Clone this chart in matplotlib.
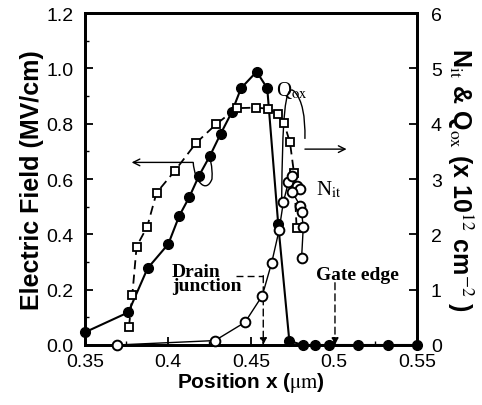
import numpy as np
import matplotlib
matplotlib.use("Agg")
import matplotlib.pyplot as plt
from matplotlib.path import Path
from matplotlib.patches import PathPatch

plt.rcParams['font.family'] = 'Liberation Sans'
plt.rcParams['mathtext.fontset'] = 'stix'

# Electric field (left axis), filled circles
ef_x = [0.35, 0.3761, 0.3877, 0.4002, 0.4068, 0.4128, 0.4187, 0.4253, 0.4317, 0.4384,
        0.444, 0.4534, 0.4598, 0.4664, 0.4731, 0.4811, 0.4886, 0.4972, 0.5147, 0.5328, 0.5499]
ef_y = [0.046, 0.118, 0.277, 0.365, 0.467, 0.534, 0.612, 0.684, 0.763, 0.841,
        0.928, 0.988, 0.928, 0.437, 0.015, 0.0, 0.0, 0.0, 0.0, 0.0, 0.0]

# Q_ox (right axis), open squares
qox_x = [0.3765, 0.3785, 0.3811, 0.3875, 0.3931, 0.4042, 0.4169, 0.429, 0.4414, 0.453,
         0.4605, 0.4664, 0.4699, 0.4735, 0.4759, 0.4775]
qox_y = [0.33, 0.90, 1.78, 2.14, 2.75, 3.15, 3.65, 3.99, 4.28, 4.29,
         4.27, 4.17, 4.01, 3.66, 3.11, 2.11]

# N_it (right axis), open circles
nit_x = [0.369, 0.4283, 0.4464, 0.4568, 0.4625, 0.4669, 0.4695, 0.4725, 0.4745, 0.4775,
         0.4795, 0.4750, 0.4795, 0.4805, 0.4815, 0.4805]
nit_y = [0.0, 0.08, 0.41, 0.89, 1.49, 2.07, 2.58, 2.94, 3.06, 2.88,
         2.82, 2.76, 2.52, 2.40, 2.13, 1.58]

fig = plt.figure(figsize=(4.82, 4.06), dpi=100)
ax = fig.add_axes([0.1763, 0.1478, 0.6888, 0.8177])
ax2 = ax.twinx()

ax.plot(ef_x, ef_y, '-', color='black', lw=1.5, marker='o', ms=7,
        mfc='black', mec='black', clip_on=False, zorder=5)
ax2.plot(qox_x, qox_y, '--', color='black', lw=1.3, dashes=(5, 3), marker='s', ms=6,
         mfc='white', mec='black', mew=1.3, clip_on=False, zorder=4)
ax2.plot(nit_x, nit_y, '-', color='black', lw=1.0, marker='o', ms=7,
         mfc='white', mec='black', mew=1.4, clip_on=False, zorder=4)

ax.set_xlim(0.35, 0.55)
ax.set_ylim(0, 1.2)
ax2.set_ylim(0, 6)

ax.set_xticks([0.35, 0.4, 0.45, 0.5, 0.55])
ax.set_xticklabels(['0.35', '0.4', '0.45', '0.5', '0.55'])
ax.set_xticks(np.arange(0.35, 0.551, 0.025), minor=True)
ax.set_yticks(np.arange(0, 1.21, 0.2))
ax.set_yticklabels(['%.1f' % v for v in np.arange(0, 1.21, 0.2)])
ax.set_yticks(np.arange(0, 1.21, 0.1), minor=True)
ax2.set_yticks(range(0, 7))

for a in (ax, ax2):
    for s in a.spines.values():
        s.set_linewidth(2)
    a.tick_params(which='major', direction='in', length=6, width=1.3, labelsize=14)
    a.tick_params(which='minor', direction='in', length=3, width=1.0)
ax.tick_params(axis='y', pad=8)
ax.tick_params(axis='x', pad=6)
ax2.tick_params(axis='y', pad=10)

ax.set_xlabel(r'Position x ($\mathrm{\mu m}$)', fontsize=15, fontweight='bold', labelpad=0)
ax.set_ylabel('Electric Field (MV/cm)', fontsize=18, fontweight='bold', labelpad=2)
ax2.set_ylabel(r'N$_{\rm it}$ & Q$_{\rm ox}$ (x 10$^{12}$ cm$^{-2}$ )', fontsize=18,
               fontweight='bold', rotation=-90, labelpad=24)

serif = 'Liberation Serif'
ax.text(0.4650, 0.905, r'Q$_{\rm ox}$', fontsize=15, family=serif)
ax.text(0.4890, 0.546, r'N$_{\rm it}$', fontsize=15, family=serif)
ax.text(0.4024, 0.198, 'Drain\njunction', fontsize=14, family=serif, fontweight='bold',
        linespacing=0.8)
ax.text(0.4890, 0.240, 'Gate edge', fontsize=14, family=serif, fontweight='bold')

# dashed arrows to the axis
ax.plot([0.4411, 0.4574], [0.2505, 0.2505], color='black', lw=1, ls=(0, (5, 3)))
ax.annotate('', xy=(0.4574, 0.0), xytext=(0.4574, 0.2505),
            arrowprops=dict(arrowstyle='-|>', color='black', lw=1, ls=(0, (5, 3)),
                            mutation_scale=10, shrinkA=0, shrinkB=0))
ax.annotate('', xy=(0.5006, 0.0), xytext=(0.5006, 0.2250),
            arrowprops=dict(arrowstyle='-|>', color='black', lw=1, ls=(0, (5, 3)),
                            mutation_scale=10, shrinkA=0, shrinkB=0))

# left arrow with lasso around electric-field curve
ax.annotate('', xy=(0.3781, 0.660), xytext=(0.4152, 0.660),
            arrowprops=dict(arrowstyle='->', color='black', lw=1, mutation_scale=12,
                            shrinkA=0, shrinkB=0))
lasso1 = Path([(0.4152, 0.660), (0.4160, 0.590), (0.4230, 0.545), (0.4265, 0.600),
               (0.4270, 0.640), (0.4253, 0.672)],
              [Path.MOVETO, Path.CURVE4, Path.CURVE4, Path.CURVE4, Path.CURVE3, Path.CURVE3])
ax.add_patch(PathPatch(lasso1, fill=False, lw=1, color='black'))

# right arrow with lasso around Q_ox curve
ax.annotate('', xy=(0.5076, 0.708), xytext=(0.4825, 0.708),
            arrowprops=dict(arrowstyle='->', color='black', lw=1, mutation_scale=12,
                            shrinkA=0, shrinkB=0))
lasso2 = Path([(0.4685, 0.528), (0.4690, 0.800), (0.4700, 0.960), (0.4765, 0.914),
               (0.4830, 0.870), (0.4825, 0.745)],
              [Path.MOVETO, Path.CURVE4, Path.CURVE4, Path.CURVE4, Path.CURVE3, Path.CURVE3])
ax.add_patch(PathPatch(lasso2, fill=False, lw=1, color='black'))

fig.savefig('out.png', dpi=100)
